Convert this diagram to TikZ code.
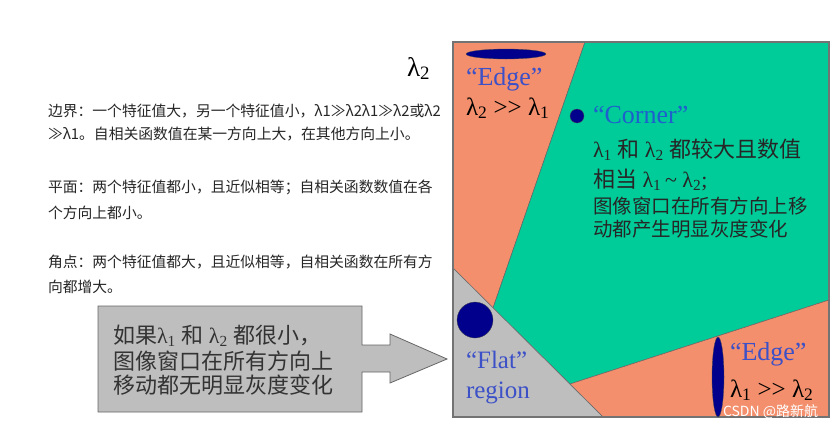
\documentclass[tikz,border=0pt]{standalone}
\usepackage{fontspec}
\setmainfont{Liberation Serif}
\newfontfamily\cjk{Noto Sans CJK SC}
\usetikzlibrary{positioning}
\definecolor{edgeorange}{RGB}{243,143,108}
\definecolor{cornergreen}{RGB}{0,204,153}
\definecolor{flatgray}{RGB}{190,190,190}
\definecolor{dotblue}{RGB}{0,0,140}
\definecolor{lblblue}{RGB}{60,80,200}
\definecolor{cornerblue}{RGB}{30,95,205}
\newcommand{\lam}[1]{λ\textsubscript{#1}}
\newcommand{\muchgt}{>\kern0pt>}
\newcommand{\fs}[1]{\fontsize{#1}{#1}\selectfont}

\begin{document}
\begin{tikzpicture}[x=1pt,y=-1pt,
    txt/.style={anchor=base west, inner sep=0pt, outer sep=0pt},
    zone/.style={draw=black!60, line width=0.5pt},
    blob/.style={fill=dotblue, draw=black!70, line width=0.3pt}]
    \useasboundingbox (0,0) rectangle (838,429);
    \fill[white] (0,0) rectangle (838,429);

    % notes on the left
    \begin{scope}[every node/.style={txt, font=\cjk\fs{14.8}, text=black!85}]
      \node (edgenote1) at (48,116) {边界：一个特征值大，另一个特征值小，λ1≫λ2λ1≫λ2或λ2};
      \node (edgenote2) at (48,139) {≫λ1。自相关函数值在某一方向上大，在其他方向上小。};
      \node (flatnote1) at (48,192) {平面：两个特征值都小，且近似相等；自相关函数数值在各};
      \node (flatnote2) at (48,218) {个方向上都小。};
      \node (cornernote1) at (48,267) {角点：两个特征值都大，且近似相等，自相关函数在所有方};
      \node (cornernote2) at (48,292) {向都增大。};
    \end{scope}

    % lambda_2 axis label
    \node[txt, font=\fs{27}] (axis) at (407,76) {\lam{2}};

    % regions
    \filldraw[zone, fill=edgeorange] (453,42) -- (585,42) -- (493,308) -- (453,268) -- cycle;
    \filldraw[zone, fill=cornergreen] (585,42) -- (829,42) -- (829,300) -- (570,384) -- (493,308) -- cycle;
    \filldraw[zone, fill=edgeorange] (570,384) -- (829,300) -- (829,417) -- (603,417) -- cycle;
    \filldraw[zone, fill=flatgray] (453,268) -- (603,417) -- (453,417) -- cycle;
    \draw[black!55, line width=1.2pt] (453,42) rectangle (829,417);

    % blobs
    \filldraw[blob] (506,54) ellipse (40pt and 5pt);
    \filldraw[blob] (577,116) circle (7pt);
    \filldraw[blob] (475,320) circle (18pt);
    \filldraw[blob] (718,377) ellipse (6pt and 40pt);

    % "Edge" top left
    \node[txt, font=\fs{26}, text=lblblue] (edgetop) at (466,85) {“Edge”};
    \node[txt, font=\fs{25}] (edgetoprel) at (466,115) {\lam{2} \muchgt\ \lam{1}};

    % "Corner"
    \node[txt, font=\fs{26}, text=cornerblue] (corner) at (593,123) {“Corner”};
    \node[txt, font=\fs{22}, text=black!85] (corner1) at (593,157) {\lam{1} {\cjk 和} \lam{2} {\cjk 都较大且数值}};
    \node[txt, font=\fs{22}, text=black!85] (corner2) at (593,187) {{\cjk 相当} \lam{1}\,\textasciitilde\ \lam{2};};
    \node[txt, font=\cjk\fs{19.5}, text=black!85] (corner3) at (593,213) {图像窗口在所有方向上移};
    \node[txt, font=\cjk\fs{19.5}, text=black!85] (corner4) at (593,236) {动都产生明显灰度变化};

    % "Flat" region
    \node[txt, font=\fs{25}, text=lblblue] (flat1) at (466,368) {“Flat”};
    \node[txt, font=\fs{25}, text=lblblue] (flat2) at (466,398) {region};

    % "Edge" bottom right
    \node[txt, font=\fs{26}, text=lblblue] (edgebot) at (730,360) {“Edge”};
    \node[txt, font=\fs{25}] (edgebotrel) at (730,397) {\lam{1} \muchgt\ \lam{2}};

    % callout arrow
    \filldraw[fill=flatgray, draw=black!60, line width=0.8pt]
      (98,306) -- (362,306) -- (362,345) -- (390,345) -- (390,334) -- (447,359)
      -- (390,383) -- (390,372) -- (362,372) -- (362,412) -- (98,412) -- cycle;
    \node[txt, font=\fs{22}, text=black!80] (flatbox1) at (113,343) {{\cjk 如果}\lam{1} {\cjk 和} \lam{2} {\cjk 都很小，}};
    \node[txt, font=\cjk\fs{22}, text=black!80] (flatbox2) at (113,369) {图像窗口在所有方向上};
    \node[txt, font=\cjk\fs{22}, text=black!80] (flatbox3) at (113,393) {移动都无明显灰度变化};

    % watermark
    \node[txt, font=\cjk\fs{14}, text=white] (mark) at (723,416) {CSDN @路新航};
  \end{tikzpicture}
\end{document}
